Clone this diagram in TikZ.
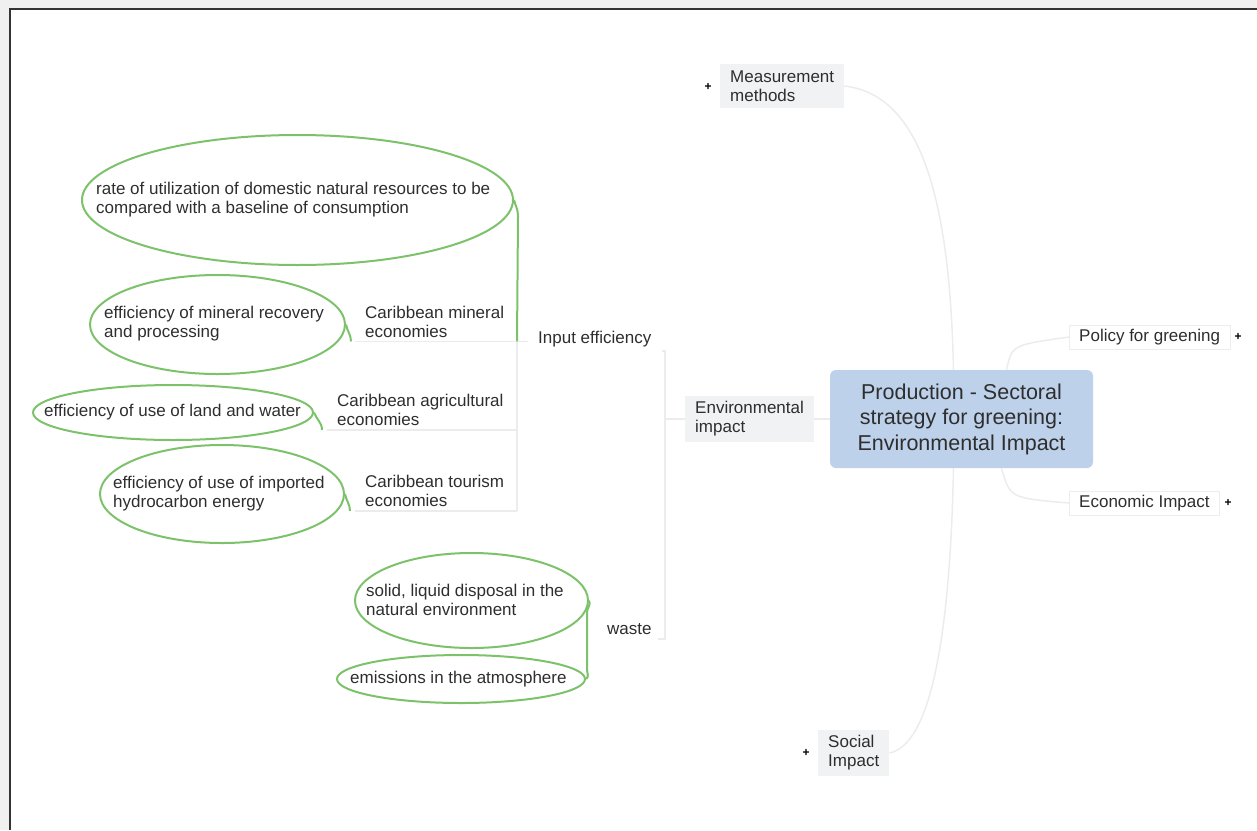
\documentclass[tikz,border=0pt]{standalone}
\usepackage{fontspec}
\setmainfont{Liberation Sans}
\usetikzlibrary{shapes.geometric,calc}
\definecolor{grn}{HTML}{7CC26A}
\definecolor{txt}{HTML}{2E2E2E}
\definecolor{faint}{HTML}{ECECEC}
\definecolor{cblue}{HTML}{BED1EA}
\definecolor{boxg}{HTML}{F1F2F4}
\begin{document}
\begin{tikzpicture}[x=1pt,y=-1pt,
  topic/.style={anchor=west, align=left, inner xsep=10pt, inner ysep=4pt, text=txt, fill=white, font=\fontsize{17}{19}\selectfont},
  grey/.style={fill=boxg},
  framed/.style={draw=black!7},
  ell/.style={ellipse, draw=grn, line width=2pt, inner sep=0pt},
  etext/.style={anchor=west, align=left, inner sep=0pt, text=txt, font=\fontsize{17}{19}\selectfont},
  gline/.style={draw=grn, line width=2pt},
  fline/.style={draw=faint, line width=1.5pt},
  plus/.style={text=black, font=\fontsize{12}{12}\selectfont\bfseries, inner sep=0pt}]
\useasboundingbox (0,0) rectangle (1257,830);
\fill[black!6] (0,0) rectangle (1257,8);
\fill[black!6] (0,0) rectangle (9,830);
\draw[line width=2pt, black!80] (10,830) -- (10,9) -- (1257,9);

% central topic
\node[rounded corners=6pt, fill=cblue, minimum width=263pt, minimum height=98pt, align=center,
      inner sep=0pt, text=txt, font=\fontsize{21.5}{25.5}\selectfont] (c) at (961.5,419)
      {Production - Sectoral\\strategy for greening:\\Environmental Impact};

% main topics
\node[topic, grey, inner ysep=7pt] (mm) at (720,86) {Measurement\\methods};
\node[plus] (mmp) at (708,87) {+};
\node[topic, framed] (pg) at (1069,337) {Policy for greening};
\node[plus] (pgp) at (1238,337) {+};
\node[topic, framed] (eco) at (1069,503) {Economic Impact};
\node[plus] (ecop) at (1228,503) {+};
\node[topic, grey, inner ysep=6pt] (si) at (818,753) {Social\\Impact};
\node[plus] (sip) at (806,753) {+};
\node[topic, grey, inner ysep=6pt] (ei) at (685,419) {Environmental\\impact};

% sub topics
\node[topic] (ie) at (528,339) {Input efficiency};
\node[topic, inner xsep=6pt] (waste) at (601,629) {waste};
\node[topic] (cme) at (355,321.5) {Caribbean mineral\\economies};
\node[topic] (cae) at (327,410) {Caribbean agricultural\\economies};
\node[topic] (cte) at (355,491) {Caribbean tourism\\economies};

% ellipses
\node[ell, minimum width=431pt, minimum height=130pt] (e1) at (297.5,200) {};
\node[etext] (e1t) at (96,200) {rate of utilization of domestic natural resources to be\\compared with a baseline of consumption};
\node[ell, minimum width=255pt, minimum height=99pt] (e2) at (217.5,324.5) {};
\node[etext] (e2t) at (104,324) {efficiency of mineral recovery\\and processing};
\node[ell, minimum width=280pt, minimum height=55pt] (e3) at (173,412.5) {};
\node[etext] (e3t) at (44,412) {efficiency of use of land and water};
\node[ell, minimum width=244pt, minimum height=98pt] (e4) at (222,494) {};
\node[etext] (e4t) at (113,494) {efficiency of use of imported\\hydrocarbon energy};
\node[ell, minimum width=233pt, minimum height=95pt] (e5) at (471.5,600.5) {};
\node[etext] (e5t) at (366,600) {solid, liquid disposal in the\\natural environment};
\node[ell, minimum width=248pt, minimum height=48pt] (e6) at (461,679) {};
\node[etext] (e6t) at (350,679) {emissions in the atmosphere};

% faint connectors from the central topic
\draw[fline] ($(c.north)+(-8,0)$) .. controls (950,210) and (925,95) .. (mm.east);
\draw[fline] ($(c.south)+(-8,0)$) .. controls (950,640) and (930,745) .. (si.east);
\draw[fline] ($(c.north)+(45,0)$) .. controls (1012,345) .. (pg.west);
\draw[fline] ($(c.south)+(40,0)$) .. controls (1010,498) .. (eco.west);
\draw[fline] (c.west) -- (ei.east);

% environmental impact branch
\coordinate (jr) at (665,0);
\draw[fline] (ei.west) -- (ei.west -| jr);
\draw[fline] (ie.south east) -- (ie.south -| jr) -- (waste.south -| jr) -- (waste.south east);

% input efficiency branch
\coordinate (jx) at (517,0);
\draw[fline] (cme.south west) -- (cme.south -| jx) -- (cte.south -| jx);
\draw[fline] (cae.south west) -- (cae.south -| jx);
\draw[fline] (cte.south west) -- (cte.south -| jx);
\draw[fline] (cme.south -| jx) -- (cme.south -| ie.west);
\draw[gline] (e1.east) to[out=-75,in=90] ($(e1.east)+(4,16)$) -- (cme.south -| jx);
\draw[gline] (e2.east) to[out=-80,in=90] ($(cme.south west)+(-4,0)$);
\draw[gline] (e3.east) to[out=-70,in=90] ($(cae.south west)+(-5,0)$);
\draw[gline] (e4.east) to[out=-80,in=90] ($(cte.south west)+(-5,0)$);

% waste branch
\coordinate (jw) at (587,0);
\draw[gline] (e5.east) to[out=-60,in=90] ($(e5.east -| jw)+(0,12)$) -- ($(e6.east -| jw)+(0,-10)$) to[out=-90,in=30] (e6.east);
\end{tikzpicture}
\end{document}
